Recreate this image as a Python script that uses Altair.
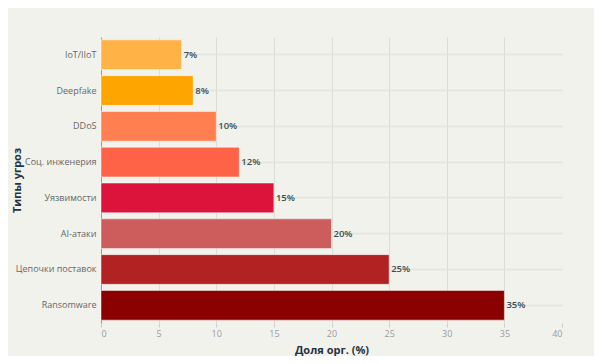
import altair as alt
import pandas as pd

categories = ["IoT/IIoT", "Deepfake", "DDoS", "Соц. инженерия", "Уязвимости",
              "AI-атаки", "Цепочки поставок", "Ransomware"]
values = [7, 8, 10, 12, 15, 20, 25, 35]
colors = ["#FFB347", "#FFA500", "#FF7F50", "#FF6347", "#DC143C",
          "#CD5C5C", "#B22222", "#8B0000"]
x_ticks = [0, 5, 10, 15, 20, 25, 30, 35, 40]

df = pd.DataFrame({"cat": categories, "val": values, "color": colors})
df["label"] = [f"{v}%" for v in values]

FONT = "Open Sans"
H = 286

y_enc = alt.Y(
    "cat:N", sort=categories,
    scale=alt.Scale(paddingInner=0.17, paddingOuter=0.08),
    axis=alt.Axis(
        title="Типы угроз", titleFont=FONT, titleFontSize=11, titleFontWeight="bold",
        titleColor="#1f3440", titleX=-84, titleY=H / 2, titleAngle=-90,
        titleAlign="center", titleBaseline="middle",
        labelFont=FONT, labelFontSize=9, labelColor="#666666", labelPadding=5,
        ticks=False, domain=True, domainColor="#999999", domainWidth=1,
        grid=True, gridColor="#e4e4de", gridWidth=1.5, bandPosition=0.5,
    ),
)

x_enc = alt.X(
    "val:Q",
    scale=alt.Scale(domain=[0, 40], nice=False),
    axis=alt.Axis(
        title="Доля орг. (%)", titleFont=FONT, titleFontSize=11, titleFontWeight="bold",
        titleColor="#1f3440", titleY=27, titleBaseline="middle",
        labelFont=FONT, labelFontSize=9, labelColor="#9a9a9a", labelPadding=2,
        values=x_ticks, ticks=True, tickSize=4, tickColor="#cccccc",
        domain=False, grid=True,
        gridColor=alt.condition("datum.value == 40", alt.value("transparent"), alt.value("#dcdcd6")),
        gridWidth=1,
    ),
)

bars = alt.Chart(df).mark_bar(stroke="#ffffff", strokeWidth=0.8, strokeOpacity=0.6).encode(
    y=y_enc, x=x_enc,
    color=alt.Color("color:N", scale=None, legend=None),
)

text = alt.Chart(df).mark_text(
    align="left", baseline="middle", dx=2, font=FONT, fontSize=9.5,
    fontWeight=600, color="#3a4f50",
).encode(
    y=alt.Y("cat:N", sort=categories),
    x=alt.X("val:Q"),
    text="label:N",
)

chart = (bars + text).properties(
    width=461, height=H,
    background="#f2f2ed",
    autosize=alt.AutoSizeParams(type="none"),
    padding={"left": 93, "top": 29, "right": 32, "bottom": 33},
).configure_view(stroke=None)

chart.save("out.html", embed_options={"renderer": "svg", "actions": False})
